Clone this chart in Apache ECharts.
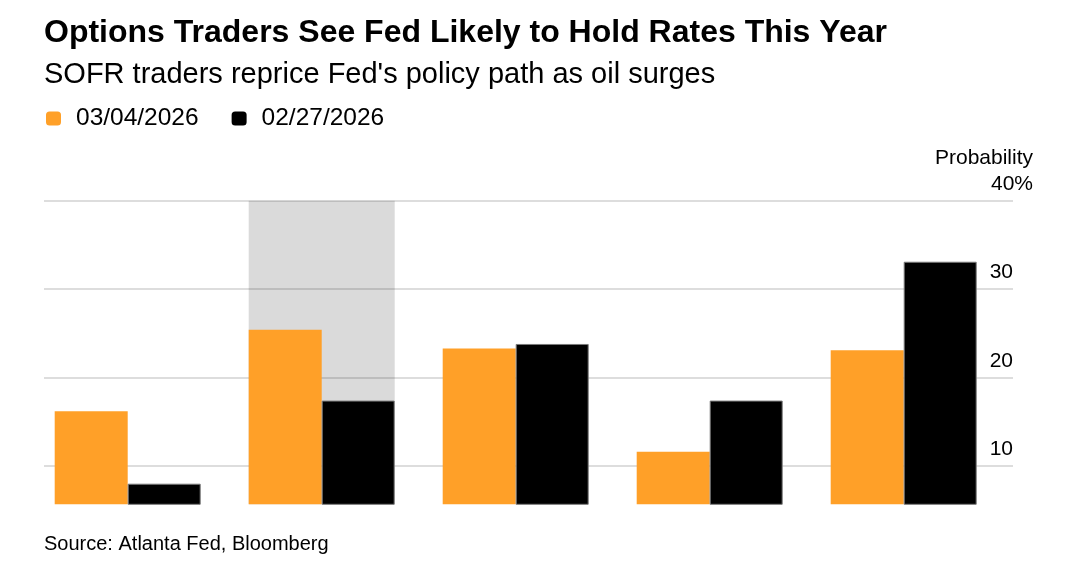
<!DOCTYPE html>
<html>
<head>
<meta charset="utf-8">
<script src="https://cdn.jsdelivr.net/npm/echarts@6/dist/echarts.min.js"></script>
<style>
html,body{margin:0;padding:0;background:#fff;}
#chart{width:1091px;height:579px;}
</style>
</head>
<body>
<div id="chart"></div>
<script>
// ---- data ----
var categories = ['Bucket 1', 'Bucket 2', 'Bucket 3', 'Bucket 4', 'Bucket 5'];
var seriesNames = ['03/04/2026', '02/27/2026'];
var valuesMar04 = [16.2, 25.4, 23.3, 11.6, 23.1];
var valuesFeb27 = [8.0, 17.4, 23.8, 17.4, 33.1];
var highlightedCategory = 'Bucket 2';
var yTickValues = [10, 20, 30, 40];
var yMin = 5.67;
var yMax = 40;

var FONT = '"Liberation Sans", Arial, Helvetica, sans-serif';
var chart = echarts.init(document.getElementById('chart'), null, {renderer: 'canvas'});

var shadeData = categories.map(function (c) { return c === highlightedCategory ? yMax : null; });

var option = {
  backgroundColor: '#ffffff',
  animation: false,
  textStyle: {fontFamily: FONT},
  title: [
    {text: 'Options Traders See Fed Likely to Hold Rates This Year', left: 44, top: 17, padding: 0,
     textStyle: {fontFamily: FONT, fontSize: 32, fontWeight: 'bold', color: '#000'}},
    {text: "SOFR traders reprice Fed's policy path as oil surges", left: 44, top: 60, padding: 0,
     textStyle: {fontFamily: FONT, fontSize: 29, fontWeight: 'normal', color: '#000'}},
    {text: 'Probability', right: 58, top: 148, padding: 0,
     textStyle: {fontFamily: FONT, fontSize: 21, fontWeight: 'normal', color: '#000'}},
    {text: 'Source: Atlanta Fed, Bloomberg', left: 44, top: 534, padding: 0,
     textStyle: {fontFamily: FONT, fontSize: 20, fontWeight: 'normal', color: '#000'}}
  ],
  legend: {
    left: 46, top: 106, padding: 0,
    itemWidth: 15, itemHeight: 14, itemGap: 33,
    icon: 'roundRect',
    selectedMode: false,
    data: seriesNames,
    itemStyle: {borderWidth: 0},
    textStyle: {fontFamily: FONT, fontSize: 24.5, color: '#000', padding: [0, 0, 0, 10]}
  },
  grid: [
    {left: 44, right: 78, top: 200.7, bottom: 74.7, containLabel: false},
    {left: 30.7, right: 90.3, top: 200.7, bottom: 74.7, containLabel: false}
  ],
  xAxis: [
    {type: 'category', gridIndex: 0, data: categories, show: false},
    {type: 'category', gridIndex: 1, data: categories, show: false},
    {type: 'category', gridIndex: 1, data: categories, show: false}
  ],
  yAxis: [
    {type: 'value', gridIndex: 0, position: 'right', min: yMin, max: yMax,
     axisLine: {show: false}, axisTick: {show: false, customValues: yTickValues},
     splitLine: {show: true, lineStyle: {color: 'rgba(0,0,0,0.18)', width: 1.5}},
     axisLabel: {
       show: true, inside: true, margin: -20, customValues: yTickValues,
       verticalAlign: 'bottom',
       formatter: function (v) { return v === yMax ? '{p|' + v + '%}' : '{n|' + v + '}'; },
       rich: {
         p: {fontFamily: FONT, fontSize: 21, color: '#000', padding: [0, 0, 6, 0]},
         n: {fontFamily: FONT, fontSize: 21, color: '#000', padding: [0, 20, 6, 0]}
       }
     }},
    {type: 'value', gridIndex: 1, min: yMin, max: yMax, show: false, splitLine: {show: false}}
  ],
  series: [
    {name: 'shade', type: 'bar', xAxisIndex: 2, yAxisIndex: 1, data: shadeData,
     barWidth: 146, z: -1, silent: true, legendHoverLink: false,
     itemStyle: {color: '#dadada'}},
    {name: seriesNames[0], type: 'bar', xAxisIndex: 1, yAxisIndex: 1, data: valuesMar04,
     barWidth: 73, barGap: '0%', itemStyle: {color: '#ffa028'}},
    {name: seriesNames[1], type: 'bar', xAxisIndex: 1, yAxisIndex: 1, data: valuesFeb27,
     barWidth: 73, barGap: '0%', itemStyle: {color: '#000000', borderColor: '#7a7a7a', borderWidth: 1}}
  ]
};
chart.setOption(option);
</script>
</body>
</html>
